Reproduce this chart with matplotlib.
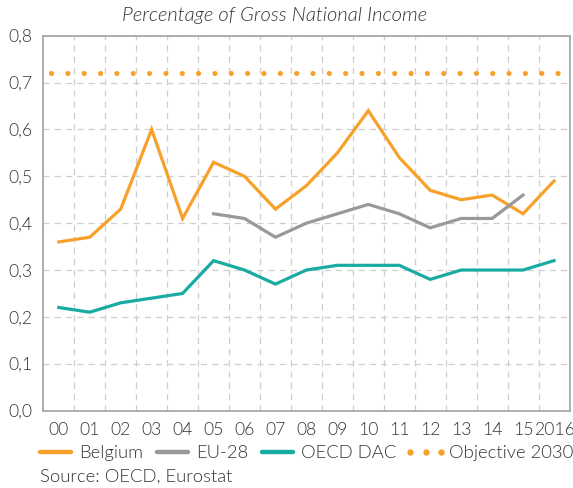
import matplotlib
matplotlib.use('Agg')
import matplotlib.pyplot as plt
from matplotlib.lines import Line2D
from matplotlib.legend_handler import HandlerLine2D
import numpy as np

plt.rcParams['font.family'] = ['Lato', 'DejaVu Sans']
plt.rcParams['font.weight'] = 300

years = ['00', '01', '02', '03', '04', '05', '06', '07', '08', '09',
         '10', '11', '12', '13', '14', '15', '2016']
belgium = [0.36, 0.37, 0.43, 0.60, 0.41, 0.53, 0.50, 0.43, 0.48, 0.55,
           0.64, 0.54, 0.47, 0.45, 0.46, 0.42, 0.49]
# EU-28 series starts in 2005 and stops in 2015
eu28 = [np.nan] * 5 + [0.42, 0.41, 0.37, 0.40, 0.42,
                       0.44, 0.42, 0.39, 0.41, 0.41, 0.46, np.nan]
oecd_dac = [0.22, 0.21, 0.23, 0.24, 0.25, 0.32, 0.30, 0.27, 0.30, 0.31,
            0.31, 0.31, 0.28, 0.30, 0.30, 0.30, 0.32]
objective_2030 = 0.72
yticks = [0.0, 0.1, 0.2, 0.3, 0.4, 0.5, 0.6, 0.7, 0.8]

orange = '#F7A12B'
grey = '#999999'
teal = '#18ABA2'
text_col = '#333333'
fontsize = 12.7
legend_fontsize = 13.3
linewidth = 2.3

fig = plt.figure(figsize=(5.73, 4.88), dpi=100)
ax = fig.add_axes([0.0756, 0.1586, 0.9183, 0.7682])

x = np.arange(len(years))
ax.plot(x, belgium, color=orange, linewidth=linewidth, solid_joinstyle='miter')
ax.plot(x, eu28, color=grey, linewidth=linewidth, solid_joinstyle='miter')
ax.plot(x, oecd_dac, color=teal, linewidth=linewidth, solid_joinstyle='miter')
ax.plot([-0.26, 16.24], [objective_2030] * 2, color=orange,
        linewidth=3.7, linestyle=(0, (0.01, 3.17)), dash_capstyle='round')

ax.set_xlim(-0.5, len(years) - 0.5)
ax.set_ylim(0, 0.8)
ax.set_xticks(x)
ax.set_xticklabels(years)
ax.set_xticks(np.arange(len(years) - 1) + 0.5, minor=True)
ax.set_yticks(yticks)
ax.set_yticklabels([f'{v:.1f}'.replace('.', ',') for v in yticks])
ax.tick_params(axis='both', which='both', length=0, labelsize=fontsize,
               labelcolor=text_col)
ax.tick_params(axis='x', pad=8)
ax.tick_params(axis='y', pad=8)

ax.grid(axis='x', which='minor', color='#cfcfcf', linestyle=(0, (5, 4)), linewidth=0.9)
ax.grid(axis='y', which='major', color='#cfcfcf', linestyle=(0, (5, 4)), linewidth=0.9)
ax.grid(axis='x', which='major', visible=False)
ax.set_axisbelow(True)
for s in ax.spines.values():
    s.set_color('#a8a8a8')
    s.set_linewidth(1.3)

fig.text(275 / 573, 1 - 15 / 488, 'Percentage of Gross National Income',
         ha='center', va='center', fontsize=14.5, style='italic', color=text_col)

# the objective handle is three round markers spread over the full handle
dots = Line2D([], [], color=orange, linestyle='none', marker='o', markersize=4.6,
              markeredgewidth=0)
handles = [
    Line2D([], [], color=orange, linewidth=3.2, solid_capstyle='round'),
    Line2D([], [], color=grey, linewidth=3.2, solid_capstyle='round'),
    Line2D([], [], color=teal, linewidth=3.2, solid_capstyle='round'),
    dots,
]
labels = ['Belgium', 'EU-28', 'OECD DAC', 'Objective 2030']
fig.legend(handles, labels, loc='center left', bbox_to_anchor=(40 / 573, 1 - 453 / 488),
           ncol=4, frameon=False, fontsize=legend_fontsize, handlelength=1.68,
           handletextpad=0.43, columnspacing=0.75, borderpad=0, borderaxespad=0,
           labelcolor=text_col,
           handler_map={dots: HandlerLine2D(numpoints=3, marker_pad=0)})

fig.text(40 / 573, 1 - 477 / 488, 'Source: OECD, Eurostat', ha='left', va='center',
         fontsize=legend_fontsize, color=text_col)

fig.savefig('out.png', dpi=100)
